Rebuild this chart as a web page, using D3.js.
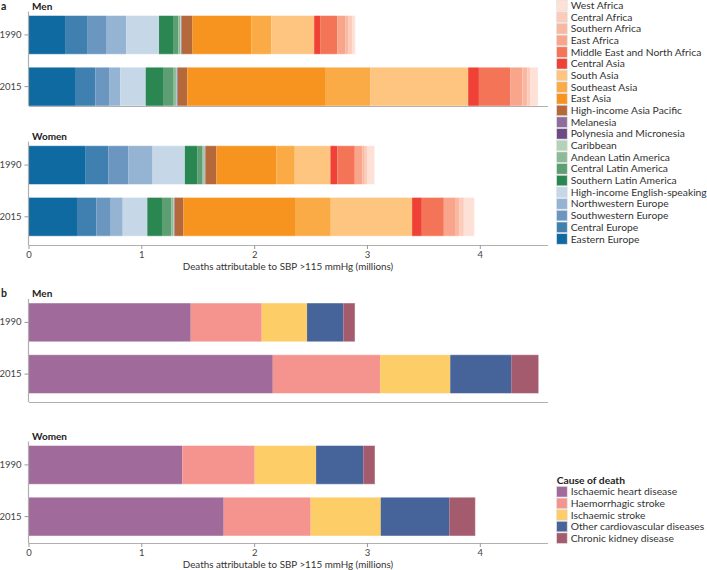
<!DOCTYPE html>
<html><head><meta charset="utf-8">
<script src="https://cdn.jsdelivr.net/npm/d3@7"></script>
<style>
body{margin:0;background:#fff;}
text{font-family:Lato,"Noto Sans",sans-serif;}
</style></head>
<body><svg id="c" width="707" height="570"></svg>
<script>
// ---------- DATA ----------
const years = ["1990", "2015"];
const regions = ["Eastern Europe","Central Europe","Southwestern Europe","Northwestern Europe",
 "High-income English-speaking","Southern Latin America","Central Latin America","Andean Latin America",
 "Caribbean","Polynesia and Micronesia","Melanesia","High-income Asia Pacific","East Asia","Southeast Asia",
 "South Asia","Central Asia","Middle East and North Africa","East Africa","Southern Africa","Central Africa","West Africa"];
const regionColors = ["#0e6aa0","#3f80b0","#6b96c0","#95b3d2","#c6d8e8","#2a8752","#5e9e73","#8dbb97",
 "#b3d3b8","#6e4a85","#8e6d9e","#b5693a","#f7941f","#fbab45","#fdc57f","#ef4136","#f47458","#f9a58b",
 "#fbb8a0","#fccbb9","#fde0d6"];
// values in millions, per region (order above)
const menRegion1990   = [0.324,0.201,0.162,0.180,0.290,0.124,0.047,0.018,0.006,0.003,0.003,0.096,0.520,0.177,0.381,0.053,0.151,0.071,0.030,0.030,0.030];
const menRegion2015   = [0.412,0.180,0.122,0.100,0.225,0.153,0.095,0.020,0.009,0.003,0.006,0.083,1.227,0.393,0.869,0.095,0.277,0.109,0.044,0.024,0.071];
const womenRegion1990 = [0.507,0.200,0.177,0.216,0.286,0.109,0.044,0.015,0.009,0.003,0.003,0.097,0.532,0.162,0.316,0.062,0.154,0.068,0.020,0.020,0.068];
const womenRegion2015 = [0.430,0.171,0.128,0.106,0.218,0.130,0.083,0.015,0.009,0.003,0.003,0.077,0.996,0.310,0.721,0.086,0.195,0.106,0.030,0.041,0.095];

const causes = ["Ischaemic heart disease","Haemorrhagic stroke","Ischaemic stroke","Other cardiovascular diseases","Chronic kidney disease"];
const causeColors = ["#a06a9a","#f5948e","#fdcd67","#46649a","#a45b6e"];
const menCause1990   = [1.438,0.629,0.402,0.322,0.103];
const menCause2015   = [2.165,0.952,0.621,0.541,0.243];
const womenCause1990 = [1.364,0.641,0.544,0.419,0.103];
const womenCause2015 = [1.730,0.771,0.621,0.608,0.231];

const xTicks = [0,1,2,3,4];
const xTitle = "Deaths attributable to SBP >115 mmHg (millions)";

// ---------- DRAW ----------
const svg = d3.select("#c");
const x = d3.scaleLinear().domain([0, 4.6]).range([28.5, 547.5]);

function subplot(title, keys, colors, rows, top, axisY, showTicks, panelLetter){
  const g = svg.append("g");
  const y = d3.scaleBand().domain(years).range([top, top + 90.5]).paddingInner(0.25);
  const table = years.map((yr, i) => { const o = {year: yr}; keys.forEach((k, j) => o[k] = rows[i][j]); return o; });
  const series = d3.stack().keys(keys)(table);
  const color = d3.scaleOrdinal().domain(keys).range(colors);
  g.selectAll("g.s").data(series).join("g").attr("fill", d => color(d.key))
    .selectAll("rect").data(d => d).join("rect")
    .attr("x", d => x(d[0])).attr("width", d => Math.max(0, x(d[1]) - x(d[0])))
    .attr("y", d => y(d.data.year)).attr("height", y.bandwidth());
  // outline of whole bar
  g.selectAll("rect.o").data(table).join("rect").attr("class","o")
    .attr("x", x(0)).attr("y", d => y(d.year))
    .attr("width", d => x(d3.sum(keys, k => d[k])) - x(0)).attr("height", y.bandwidth())
    .attr("fill","none").attr("stroke","#fff").attr("stroke-opacity",0.45).attr("stroke-width",1);
  // x axis
  const xa = d3.axisBottom(x).tickValues(showTicks ? xTicks : []).tickFormat(d3.format("d"))
    .tickSize(4).tickSizeOuter(0).tickPadding(2);
  const gx = g.append("g").attr("transform", `translate(0,${axisY})`).call(xa);
  gx.select(".domain").attr("stroke","#b0b0b0").attr("stroke-width",1.2);
  gx.selectAll(".tick line").attr("stroke","#999");
  gx.selectAll(".tick text").attr("fill","#444").style("font-size","9.5px");
  // y axis
  const ya = d3.axisLeft(y).tickSize(4).tickSizeOuter(0).tickPadding(3);
  const gy = g.append("g").attr("transform", `translate(${x(0)},0)`).call(ya);
  gy.select(".domain").attr("d", `M0,${top - 4}V${axisY}`).attr("stroke","#b0b0b0").attr("stroke-width",1.2);
  gy.selectAll(".tick line").attr("stroke","#999");
  gy.selectAll(".tick text").attr("fill","#444").style("font-size","9.5px");
  g.append("text").attr("x", 32).attr("y", top - 6).text(title)
    .style("font-size","10px").style("font-weight","bold").attr("fill","#222");
  if (panelLetter) g.append("text").attr("x", 1).attr("y", top - 6).text(panelLetter)
    .style("font-size","10.5px").style("font-weight","bold").attr("fill","#222");
  if (showTicks) g.append("text").attr("x", 288).attr("y", axisY + 25).attr("text-anchor","middle")
    .text(xTitle).style("font-size","9.8px").attr("fill","#333");
}

subplot("Men",   regions, regionColors, [menRegion1990, menRegion2015],     15.5, 106, false, "a");
subplot("Women", regions, regionColors, [womenRegion1990, womenRegion2015], 145.7, 245, true, null);
subplot("Men",   causes,  causeColors,  [menCause1990, menCause2015],       303, 402, false, "b");
subplot("Women", causes,  causeColors,  [womenCause1990, womenCause2015],   445.5, 543, true, null);

// legends
function legend(keys, colors, x0, yTop, step, heading){
  const g = svg.append("g");
  const items = keys.map((k, i) => ({k, c: colors[i]}));
  const gi = g.selectAll("g").data(items).join("g")
    .attr("transform", (d, i) => `translate(${x0},${yTop + i * step})`);
  gi.append("rect").attr("x", 0).attr("y", -5.2).attr("width", 10.5).attr("height", 10.5)
    .attr("fill", d => d.c).attr("stroke","#ddd").attr("stroke-width",0.6);
  gi.append("text").attr("x", 14).attr("y", 3.6).text(d => d.k)
    .style("font-size","10.3px").attr("fill","#333");
  if (heading) g.append("text").attr("x", x0).attr("y", yTop - step + 3.8).text(heading)
    .style("font-size","10.3px").style("font-weight","bold").attr("fill","#222");
}
legend(regions.slice().reverse(), regionColors.slice().reverse(), 556.7, 5.3, 11.68, null);
legend(causes, causeColors, 556.7, 491.7, 11.6, "Cause of death");
</script></body></html>
